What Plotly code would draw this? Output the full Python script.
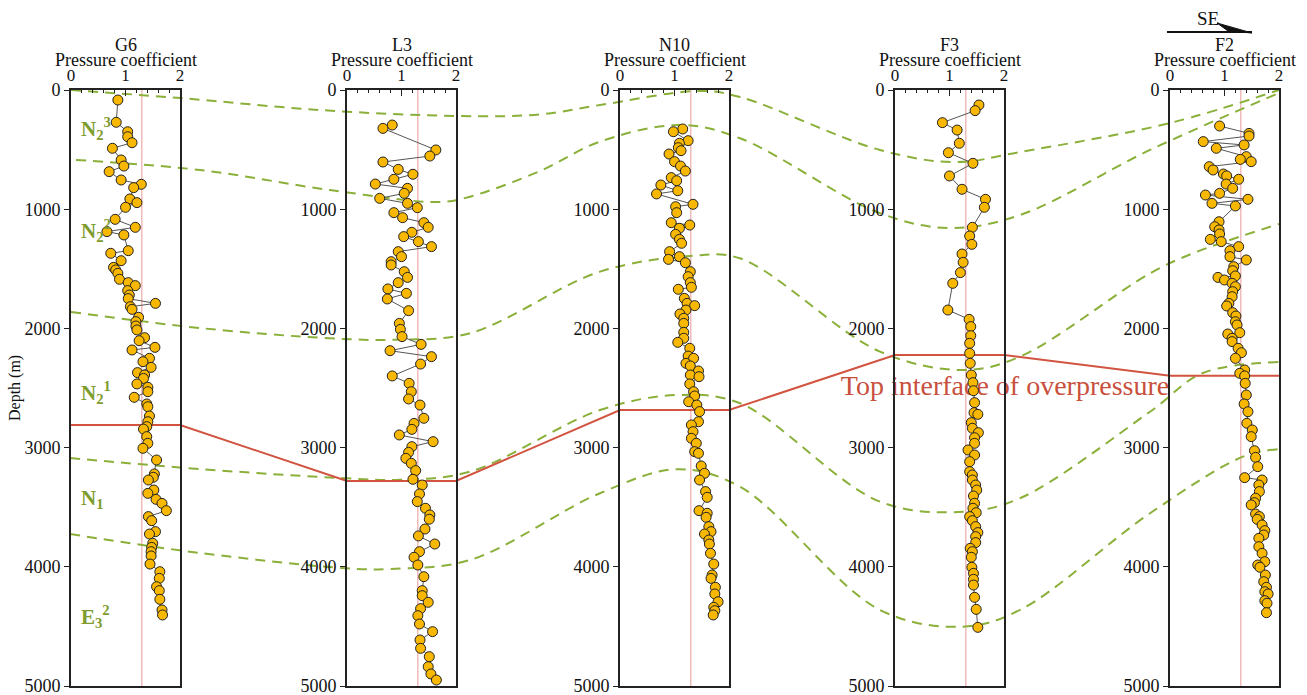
import plotly.graph_objects as go

# ---------------- data ----------------
WELLS = ["G6", "L3", "N10", "F3", "F2"]
HYDROSTATIC = 1.3
PC_TICKS = [0, 1, 2]
DEPTH_TICKS = [0, 1000, 2000, 3000, 4000, 5000]

g6_pc = [0.86, 0.83, 1.04, 1.04, 1.12, 0.76, 0.92, 0.97, 0.70, 0.92, 1.29, 1.15, 1.08, 1.21, 1.00, 0.81, 1.18, 0.66, 0.97,
         1.05, 0.73, 0.92, 0.78, 0.82, 0.86, 0.89, 1.05, 1.18, 1.04, 1.07, 1.05, 1.55, 1.09, 1.12, 1.24, 1.19, 1.19, 1.21,
         1.35, 1.25, 1.54, 1.12, 1.44, 1.32, 1.47, 1.22, 1.35, 1.33, 1.21, 1.41, 1.41, 1.16, 1.39, 1.41, 1.44, 1.41, 1.39,
         1.33, 1.39, 1.41, 1.32, 1.57, 1.53, 1.51, 1.42, 1.52, 1.41, 1.56, 1.67, 1.75, 1.42, 1.48, 1.55, 1.44, 1.50, 1.48,
         1.47, 1.47, 1.45, 1.63, 1.62, 1.57, 1.62, 1.63, 1.67, 1.68]
g6_depth = [84, 271, 350, 392, 442, 489, 587, 638, 685, 755, 791, 819, 914, 945, 984, 1085, 1152, 1188, 1216,
            1348, 1370, 1432, 1488, 1510, 1538, 1588, 1616, 1641, 1683, 1720, 1750, 1790, 1818, 1840, 1907, 1943, 1980, 2013,
            2078, 2103, 2159, 2181, 2251, 2279, 2327, 2371, 2391, 2420, 2466, 2494, 2531, 2578, 2634, 2657, 2735, 2783, 2824,
            2845, 2908, 2964, 3006, 3104, 3221, 3249, 3272, 3356, 3384, 3434, 3468, 3529, 3579, 3613, 3705, 3725, 3803, 3837,
            3873, 3909, 3977, 4041, 4097, 4167, 4200, 4273, 4362, 4404]

l3_pc = [0.83, 0.66, 1.63, 1.52, 0.66, 0.94, 1.21, 0.86, 0.52, 1.11, 1.05, 0.60, 1.11, 1.29, 0.86, 1.02, 1.41, 1.49, 1.19,
         1.04, 1.31, 1.55, 0.94, 1.00, 0.81, 0.81, 1.05, 1.11, 0.94, 0.75, 1.09, 0.74, 1.13, 0.96, 0.98, 1.01, 1.36, 0.79,
         1.55, 1.35, 0.83, 1.14, 1.18, 1.13, 1.34, 1.41, 1.23, 1.19, 0.96, 1.58, 1.19, 1.13, 1.08, 1.18, 1.26, 1.21, 1.38,
         1.33, 1.29, 1.44, 1.52, 1.51, 1.43, 1.31, 1.61, 1.33, 1.23, 1.30, 1.41, 1.38, 1.38, 1.49, 1.35, 1.30, 1.33, 1.57,
         1.34, 1.35, 1.51, 1.49, 1.54, 1.64]
l3_depth = [294, 322, 503, 554, 604, 666, 707, 749, 789, 825, 867, 909, 951, 987, 1029, 1071, 1113, 1152, 1194,
            1230, 1272, 1314, 1356, 1398, 1440, 1468, 1524, 1572, 1616, 1669, 1706, 1753, 1851, 1958, 2008, 2069, 2134, 2187,
            2237, 2299, 2399, 2461, 2531, 2592, 2643, 2754, 2797, 2847, 2894, 2950, 2992, 3040, 3090, 3132, 3193, 3266, 3314,
            3389, 3453, 3509, 3565, 3601, 3683, 3741, 3809, 3873, 3920, 3985, 4083, 4200, 4242, 4298, 4351, 4410, 4480, 4544,
            4614, 4684, 4754, 4838, 4899, 4950]

n10_pc = [1.15, 0.98, 1.25, 1.09, 1.07, 1.12, 0.90, 1.00, 1.11, 1.20, 0.94, 1.04, 0.75, 1.06, 0.67, 1.34, 1.02, 1.04, 0.94,
          1.28, 1.09, 1.02, 1.09, 1.13, 0.91, 1.09, 0.89, 1.20, 1.29, 1.25, 1.29, 1.31, 1.07, 1.18, 1.23, 1.37, 1.21, 1.10,
          1.17, 1.17, 1.17, 1.17, 1.06, 1.28, 1.25, 1.35, 1.21, 1.29, 1.44, 1.29, 1.45, 1.28, 1.35, 1.37, 1.26, 1.41, 1.46,
          1.44, 1.31, 1.34, 1.31, 1.40, 1.37, 1.44, 1.49, 1.55, 1.46, 1.57, 1.60, 1.45, 1.60, 1.58, 1.63, 1.67, 1.55, 1.63,
          1.64, 1.66, 1.72, 1.69, 1.67, 1.75, 1.74, 1.80, 1.72, 1.74, 1.71]
n10_depth = [327, 350, 425, 447, 484, 509, 537, 601, 638, 680, 735, 761, 797, 845, 872, 959, 979, 1029, 1113,
             1133, 1160, 1211, 1253, 1286, 1356, 1398, 1421, 1449, 1524, 1566, 1616, 1655, 1672, 1748, 1790, 1809, 1846, 1879,
             1915, 1958, 2033, 2083, 2117, 2167, 2232, 2251, 2293, 2315, 2357, 2391, 2405, 2466, 2531, 2567, 2615, 2643, 2698,
             2783, 2810, 2866, 2922, 2964, 3034, 3048, 3154, 3216, 3272, 3369, 3417, 3529, 3551, 3585, 3663, 3705, 3725, 3775,
             3809, 3887, 3977, 4069, 4097, 4172, 4228, 4293, 4340, 4368, 4404]

f3_pc = [1.54, 1.47, 0.87, 1.14, 1.18, 0.98, 1.43, 1.00, 1.23, 1.66, 1.64, 1.42, 1.37, 1.41, 1.23, 1.25, 1.20, 1.06, 0.97,
         1.36, 1.39, 1.39, 1.37, 1.37, 1.38, 1.40, 1.43, 1.44, 1.46, 1.45, 1.52, 1.40, 1.42, 1.53, 1.46, 1.46, 1.34, 1.46,
         1.37, 1.37, 1.42, 1.42, 1.48, 1.50, 1.44, 1.46, 1.43, 1.49, 1.37, 1.42, 1.48, 1.52, 1.48, 1.48, 1.38, 1.42, 1.40,
         1.41, 1.44, 1.44, 1.44, 1.46, 1.49, 1.52]
f3_depth = [126, 173, 274, 336, 447, 526, 615, 721, 833, 917, 984, 1152, 1225, 1295, 1376, 1446, 1532, 1622, 1846,
            1924, 1985, 2061, 2125, 2209, 2293, 2391, 2455, 2523, 2623, 2707, 2721, 2791, 2838, 2875, 2917, 2964, 3020, 3062,
            3118, 3202, 3230, 3272, 3314, 3356, 3406, 3467, 3509, 3546, 3579, 3613, 3663, 3713, 3747, 3797, 3845, 3873, 3920,
            4004, 4055, 4105, 4153, 4256, 4357, 4508]

f2_pc = [0.91, 1.45, 1.45, 0.61, 1.36, 0.85, 1.40, 1.29, 1.49, 0.72, 0.79, 0.98, 1.04, 1.26, 1.03, 1.15, 0.91, 0.65, 1.43,
         0.77, 1.20, 0.90, 0.82, 0.90, 0.91, 0.74, 0.94, 1.26, 1.10, 1.10, 1.40, 1.17, 1.15, 1.20, 0.88, 1.00, 1.14, 1.20,
         1.15, 1.14, 1.08, 1.04, 1.15, 1.21, 1.20, 1.23, 1.28, 1.06, 1.14, 1.14, 1.25, 1.31, 1.20, 1.37, 1.28, 1.37, 1.38,
         1.40, 1.36, 1.43, 1.41, 1.51, 1.49, 1.55, 1.57, 1.61, 1.37, 1.69, 1.63, 1.64, 1.57, 1.55, 1.49, 1.57, 1.64, 1.60,
         1.69, 1.74, 1.72, 1.63, 1.63, 1.69, 1.74, 1.61, 1.65, 1.75, 1.72, 1.77, 1.74, 1.80, 1.74, 1.78, 1.77]
f2_depth = [302, 364, 386, 433, 461, 489, 559, 582, 601, 643, 671, 705, 721, 749, 789, 825, 867, 881, 917,
            951, 973, 1105, 1147, 1174, 1208, 1253, 1272, 1314, 1348, 1398, 1426, 1482, 1516, 1560, 1572, 1594, 1622, 1650,
            1692, 1734, 1790, 1812, 1868, 1896, 1944, 1971, 2036, 2047, 2083, 2111, 2167, 2204, 2251, 2349, 2377, 2399, 2461,
            2559, 2634, 2699, 2796, 2852, 2908, 3026, 3082, 3160, 3252, 3272, 3314, 3369, 3425, 3462, 3481, 3557, 3579, 3602,
            3649, 3697, 3733, 3761, 3831, 3887, 3957, 3985, 4004, 4069, 4125, 4172, 4209, 4228, 4284, 4306, 4385]

WELL_PC = [g6_pc, l3_pc, n10_pc, f3_pc, f2_pc]
WELL_DEPTH = [g6_depth, l3_depth, n10_depth, f3_depth, f2_depth]

# depth of the top interface of overpressure in each well (m)
OVERPRESSURE_TOP = [2810, 3280, 2685, 2223, 2397]

# stratigraphic correlation horizons: distance along section (arbitrary units) and depth (m)
h1_dist = [71, 181, 320, 457, 540, 600, 700, 740, 880, 955, 1020, 1170, 1279]
h1_depth = [0, 68, 168, 218, 205, 126, 8, 59, 503, 605, 520, 277, 0]
h2_dist = [76, 200, 330, 440, 470, 540, 600, 680, 740, 880, 950, 1020, 1150, 1279]
h2_depth = [587, 671, 839, 940, 895, 680, 433, 294, 405, 1034, 1158, 1049, 503, 25]
h3_dist = [71, 200, 330, 395, 470, 600, 690, 740, 880, 963, 1020, 1150, 1193, 1279]
h3_depth = [1862, 1997, 2083, 2095, 2040, 1524, 1393, 1412, 2195, 2349, 2237, 1538, 1370, 1124]
h4_dist = [70, 200, 347, 400, 470, 600, 677, 740, 880, 963, 1020, 1150, 1203, 1279]
h4_depth = [3087, 3180, 3258, 3270, 3202, 2685, 2559, 2628, 3454, 3538, 3425, 2699, 2374, 2282]
h5_dist = [70, 200, 347, 390, 470, 600, 677, 740, 880, 963, 1020, 1150, 1243, 1279]
h5_depth = [3725, 3884, 4013, 4018, 3943, 3383, 3182, 3328, 4362, 4502, 4362, 3551, 3076, 3012]
HORIZONS = [(h1_dist, h1_depth), (h2_dist, h2_depth), (h3_dist, h3_depth), (h4_dist, h4_depth), (h5_dist, h5_depth)]

FORMATION_LABELS = ["N<sub>2</sub><sup>3</sup>", "N<sub>2</sub><sup>2</sup>", "N<sub>2</sub><sup>1</sup>",
                    "N<sub>1</sub>", "E<sub>3</sub><sup>2</sup>"]
FORMATION_DEPTHS = [320, 1175, 2535, 3430, 4420]

# ---------------- layout constants ----------------
FIG_W, FIG_H = 1307, 695
PANEL_LEFT = [71, 347, 620, 895, 1170]
PANEL_W = 109
TOP_PX, BOT_PX = 90, 686
SERIF = "Liberation Serif, Times New Roman, serif"
GREEN = "#8bb03a"
LABEL_GREEN = "#7f9c2e"
RED = "#d2533f"
AXIS_C = "#222222"

ydom = [1 - BOT_PX / FIG_H, 1 - TOP_PX / FIG_H]

fig = go.Figure()

# section subplot (xy) for correlation lines, drawn beneath wells
for dist, dep in HORIZONS:
    fig.add_trace(go.Scatter(x=dist, y=dep, mode="lines", xaxis="x", yaxis="y",
                             line=dict(color=GREEN, width=2, dash="10px,7px", shape="spline", smoothing=1.0),
                             hoverinfo="skip", showlegend=False))

op_x, op_y = [], []
for left, d in zip(PANEL_LEFT, OVERPRESSURE_TOP):
    op_x += [left, left + PANEL_W]
    op_y += [d, d]
fig.add_trace(go.Scatter(x=op_x, y=op_y, mode="lines", xaxis="x", yaxis="y",
                         line=dict(color=RED, width=2), hoverinfo="skip", showlegend=False))

fig.add_trace(go.Scatter(x=[1005], y=[2500], mode="text", text=["Top interface of overpressure"],
                         textfont=dict(family=SERIF, size=28, color="#c8503c"), xaxis="x", yaxis="y",
                         hoverinfo="skip", showlegend=False))

layout = dict(
    width=FIG_W, height=FIG_H, margin=dict(l=0, r=0, t=0, b=0, autoexpand=False),
    paper_bgcolor="white", plot_bgcolor="rgba(0,0,0,0)", showlegend=False,
    xaxis=dict(domain=[0, 1], range=[0, FIG_W], visible=False, anchor="y", automargin=False),
    yaxis=dict(domain=ydom, range=[5000, 0], visible=False, anchor="x", automargin=False),
)

shapes = []
annotations = []
for i, (name, pc, dep) in enumerate(zip(WELLS, WELL_PC, WELL_DEPTH)):
    k = i + 2
    left = PANEL_LEFT[i]
    xd = [left / FIG_W, (left + PANEL_W) / FIG_W]
    layout[f"xaxis{k}"] = dict(
        domain=xd, anchor=f"y{k}", side="top", range=[0, 2], tickvals=PC_TICKS, automargin=False,
        ticks="inside", ticklen=6, tickwidth=1, tickcolor=AXIS_C, ticklabeloverflow="allow",
        minor=dict(dtick=0.2, ticks="inside", ticklen=3, tickcolor=AXIS_C, tickwidth=1),
        showline=True, mirror=True, linecolor=AXIS_C, linewidth=2, showgrid=False, zeroline=False,
        tickfont=dict(family=SERIF, size=17, color="#111"))
    layout[f"yaxis{k}"] = dict(
        domain=ydom, anchor=f"x{k}", range=[5000, 0], tickvals=DEPTH_TICKS, automargin=False,
        ticks="outside", ticklen=5, tickwidth=1, tickcolor=AXIS_C, ticklabeloverflow="allow",
        showline=True, mirror=True, linecolor=AXIS_C, linewidth=2, showgrid=False, zeroline=False,
        tickfont=dict(family=SERIF, size=18, color="#111"))
    shapes.append(dict(type="line", xref=f"x{k}", yref=f"y{k} domain", x0=HYDROSTATIC, x1=HYDROSTATIC,
                       y0=0, y1=1, line=dict(color="#e99a9a", width=1), layer="below"))
    fig.add_trace(go.Scatter(x=pc, y=dep, mode="lines+markers", xaxis=f"x{k}", yaxis=f"y{k}",
                             line=dict(color="#555555", width=1),
                             marker=dict(size=10, color="#f8b700", line=dict(color="#222", width=1)),
                             cliponaxis=False, showlegend=False, name=name))
    cx = (left + PANEL_W / 2) / FIG_W
    annotations.append(dict(text=name, x=cx, y=1 - 45 / FIG_H, xref="paper", yref="paper", showarrow=False,
                            xanchor="center", yanchor="middle", font=dict(family=SERIF, size=18, color="#111")))
    annotations.append(dict(text="Pressure coefficient", x=cx, y=1 - 60.5 / FIG_H, xref="paper", yref="paper",
                            showarrow=False, xanchor="center", yanchor="middle",
                            font=dict(family=SERIF, size=18, color="#111")))

for lab, d in zip(FORMATION_LABELS, FORMATION_DEPTHS):
    annotations.append(dict(text=f"<b>{lab}</b>", x=0.15, y=d, xref="x2", yref="y2", showarrow=False,
                            xanchor="left", yanchor="middle", font=dict(family=SERIF, size=21, color=LABEL_GREEN)))

annotations.append(dict(text="Depth (m)", x=15 / FIG_W, y=1 - 388 / FIG_H, xref="paper", yref="paper",
                        showarrow=False, textangle=-90, xanchor="center", yanchor="middle",
                        font=dict(family=SERIF, size=16, color="#111")))
annotations.append(dict(text="SE", x=1208 / FIG_W, y=1 - 18 / FIG_H, xref="paper", yref="paper", showarrow=False,
                        xanchor="center", yanchor="middle", font=dict(family=SERIF, size=19, color="#111")))

# direction arrow
px = lambda v: v / FIG_W
py = lambda v: 1 - v / FIG_H
shapes.append(dict(type="line", xref="paper", yref="paper", x0=px(1167), x1=px(1252),
                   y0=py(32), y1=py(32), line=dict(color="#111", width=2)))
shapes.append(dict(type="path", xref="paper", yref="paper",
                   path=f"M {px(1217)} {py(23)} L {px(1252)} {py(33)} L {px(1228)} {py(31)} Z",
                   fillcolor="#111", line=dict(color="#111", width=1)))

layout["shapes"] = shapes
layout["annotations"] = annotations
fig.update_layout(**layout)

fig.write_html("out.html")
